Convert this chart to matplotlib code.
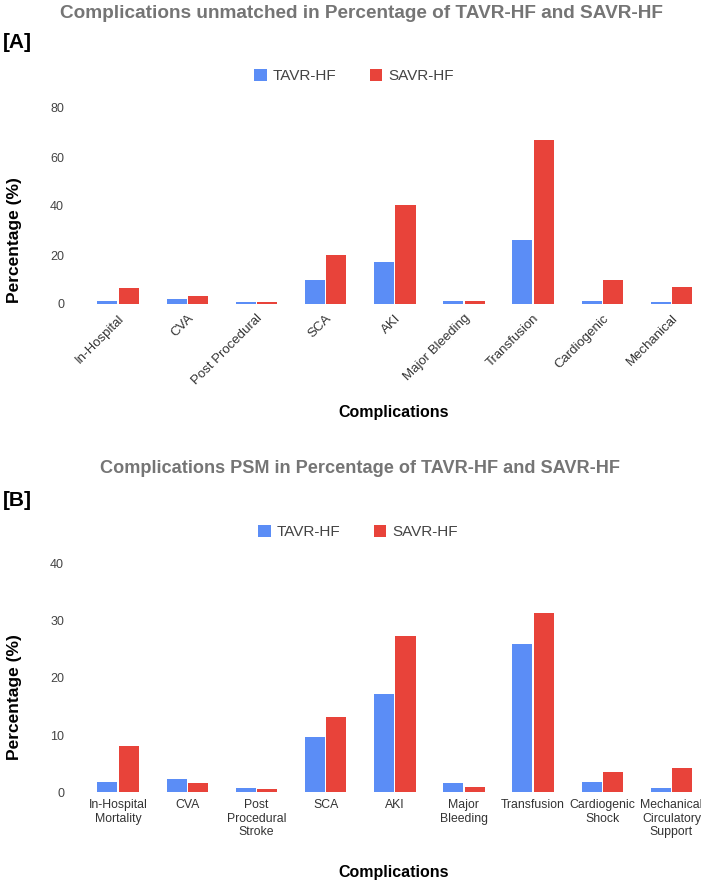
import matplotlib
matplotlib.use("Agg")
import matplotlib.pyplot as plt
import numpy as np

plt.rcParams['font.family'] = ['Liberation Sans', 'DejaVu Sans']

# ---------------- data ----------------
series = ['TAVR-HF', 'SAVR-HF']
cats_a = ['In-Hospital', 'CVA', 'Post Procedural', 'SCA', 'AKI', 'Major Bleeding',
          'Transfusion', 'Cardiogenic', 'Mechanical']
tavr_a = [1.4, 2.0, 0.7, 9.6, 17.1, 1.4, 26.3, 1.4, 0.7]
savr_a = [6.4, 3.3, 0.7, 19.9, 40.5, 1.4, 67.1, 9.6, 6.8]
yticks_a = [0, 20, 40, 60, 80]

cats_b = ['In-Hospital\nMortality', 'CVA', 'Post\nProcedural\nStroke', 'SCA', 'AKI',
          'Major\nBleeding', 'Transfusion', 'Cardiogenic\nShock',
          'Mechanical\nCirculatory\nSupport']
tavr_b = [1.75, 2.4, 0.8, 9.6, 17.1, 1.6, 25.9, 1.75, 0.8]
savr_b = [8.1, 1.6, 0.55, 13.1, 27.3, 0.9, 31.4, 3.5, 4.3]
yticks_b = [0, 10, 20, 30, 40]

BLUE = '#5B8DF6'
RED = '#E8433A'
W, H = 701, 882

fig = plt.figure(figsize=(W / 100, H / 100), dpi=100)
fig.patch.set_facecolor('white')


def px_axes(left, top, right, bottom):
    return fig.add_axes([left / W, 1 - bottom / H, (right - left) / W, (bottom - top) / H])


def draw_panel(ax, cats, t, s, yticks, rotate):
    x = np.arange(len(cats))
    bw = 0.29
    b1 = ax.bar(x - 0.155, t, bw, color=BLUE, label=series[0])
    b2 = ax.bar(x + 0.155, s, bw, color=RED, label=series[1])
    ax.set_xlim(-0.5, len(cats) - 0.5)
    ax.set_ylim(yticks[0], yticks[-1])
    ax.set_yticks(yticks)
    ax.set_yticklabels([str(v) for v in yticks], fontsize=9, color='#444444')
    ax.set_xticks(x)
    if rotate:
        ax.set_xticklabels(cats, rotation=45, ha='right', rotation_mode='anchor',
                           fontsize=9.5, color='#333333')
        ax.tick_params(axis='x', pad=6)
    else:
        ax.set_xticklabels(cats, fontsize=8.8, color='#333333', linespacing=1.15)
        ax.tick_params(axis='x', pad=5)
    ax.tick_params(axis='both', length=0)
    ax.tick_params(axis='y', pad=14)
    for sp in ax.spines.values():
        sp.set_visible(False)
    return b1, b2


# Panel A
axA = px_axes(83.5, 108, 706, 304)
hA = draw_panel(axA, cats_a, tavr_a, savr_a, yticks_a, True)
# Panel B
axB = px_axes(83.5, 563.3, 706, 792.3)
hB = draw_panel(axB, cats_b, tavr_b, savr_b, yticks_b, False)

title_kw = dict(ha='center', va='center', fontweight='bold', color='#757575')
fig.text(361 / W, 1 - 13 / H, 'Complications unmatched in Percentage of TAVR-HF and SAVR-HF',
         fontsize=13.7, **title_kw)
fig.text(360 / W, 1 - 468 / H, 'Complications PSM in Percentage of TAVR-HF and SAVR-HF',
         fontsize=13.1, **title_kw)

tag_kw = dict(ha='left', va='center', fontsize=15, fontweight='bold', color='black')
fig.text(3 / W, 1 - 43 / H, '[A]', **tag_kw)
fig.text(3 / W, 1 - 500 / H, '[B]', **tag_kw)

lab_kw = dict(ha='center', va='center', fontweight='bold', color='black')
fig.text(394 / W, 1 - 413 / H, 'Complications', fontsize=11.5, **lab_kw)
fig.text(394 / W, 1 - 872 / H, 'Complications', fontsize=11.5, **lab_kw)
fig.text(15 / W, 1 - 240 / H, 'Percentage (%)', rotation=90, fontsize=12.5, **lab_kw)
fig.text(15 / W, 1 - 697 / H, 'Percentage (%)', rotation=90, fontsize=12.5, **lab_kw)

leg_kw = dict(loc='center', ncol=2, frameon=False, fontsize=11, handlelength=0.8,
              handleheight=0.8, handletextpad=0.4, columnspacing=2.2,
              labelcolor='#444444')
fig.legend(hA, series, bbox_to_anchor=(354 / W, 1 - 76 / H), **leg_kw)
fig.legend(hB, series, bbox_to_anchor=(358 / W, 1 - 532 / H), **leg_kw)

fig.savefig('out.png', dpi=100)
